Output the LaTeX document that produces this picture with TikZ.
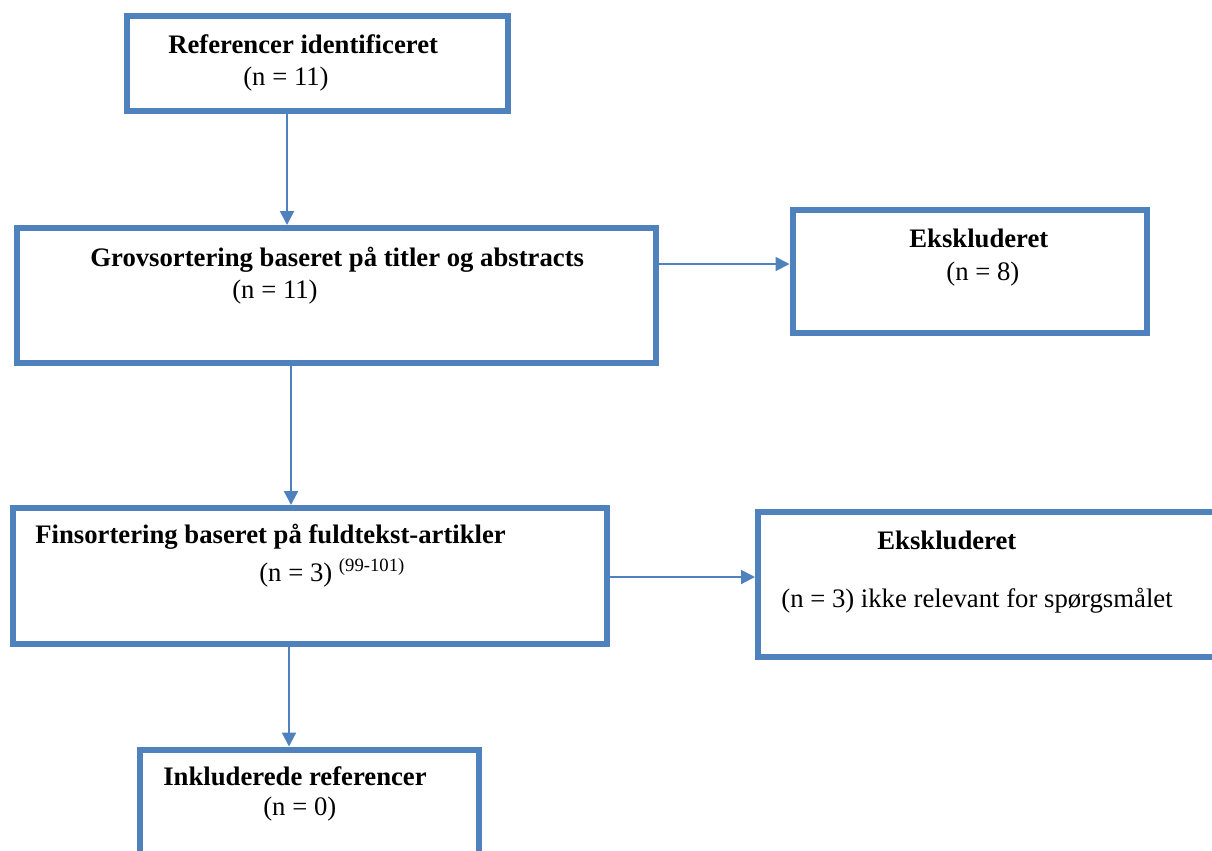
\documentclass[tikz,border=0pt]{standalone}
\usepackage{fontspec}
\setmainfont{Liberation Serif}
\usetikzlibrary{arrows.meta}
\definecolor{boxblue}{HTML}{4F81BD}
\begin{document}
\begin{tikzpicture}[x=0.02cm,y=-0.02cm,
  box/.style={draw=boxblue, line width=0.12cm, rectangle, inner sep=0pt, fill=none},
  txt/.style={inner sep=0pt, anchor=base west, font=\fontsize{15.2}{18}\selectfont},
  arr/.style={draw=boxblue, line width=0.04cm, -{Triangle[length=0.28cm,width=0.28cm]}}]
\useasboundingbox (0,0) rectangle (1212,850);
\clip (0,0) rectangle (1212,850);
% boxes
\node[box, minimum width=381*0.02cm, minimum height=95*0.02cm] (b1) at (317,63) {};
\node[box, minimum width=639*0.02cm, minimum height=135*0.02cm] (b2) at (336.5,295.5) {};
\node[box, minimum width=354.5*0.02cm, minimum height=123*0.02cm] (b3) at (969.75,271.5) {};
\node[box, minimum width=594*0.02cm, minimum height=136*0.02cm] (b4) at (310,576) {};
\node[box, minimum width=500*0.02cm, minimum height=145*0.02cm] (b5) at (1008,584) {};
\node[box, minimum width=339*0.02cm, minimum height=160*0.02cm] (b6) at (309.5,829.5) {};
% texts
\node[txt] (t1a) at (168,53) {\textbf{Referencer identificeret}};
\node[txt] (t1b) at (243,85) {(n = 11)};
\node[txt] (t2a) at (90,266) {\textbf{Grovsortering baseret på titler og abstracts}};
\node[txt] (t2b) at (232,298) {(n = 11)};
\node[txt] (t3a) at (909,247) {\textbf{Ekskluderet}};
\node[txt] (t3b) at (946,280) {(n = 8)};
\node[txt] (t4a) at (35,543) {\textbf{Finsortering baseret på fuldtekst-artikler}};
\node[txt] (t4b) at (259,581) {(n = 3) \textsuperscript{(99-101)}};
\node[txt] (t5a) at (877,549) {\textbf{Ekskluderet}};
\node[txt] (t5b) at (781,607) {(n = 3) ikke relevant for spørgsmålet};
\node[txt] (t6a) at (163,785) {\textbf{Inkluderede referencer}};
\node[txt] (t6b) at (263,815) {(n = 0)};
% connector coordinates
\coordinate (c1) at (287,0);
\coordinate (c2) at (0,264);
\coordinate (c3) at (291,0);
\coordinate (c4) at (0,577);
\coordinate (c5) at (289,0);
% connectors
\draw[arr] (b1.south -| c1) -- (b2.north -| c1);
\draw[arr] (b2.east |- c2) -- (b3.west |- c2);
\draw[arr] (b2.south -| c3) -- (b4.north -| c3);
\draw[arr] (b4.east |- c4) -- (b5.west |- c4);
\draw[arr] (b4.south -| c5) -- (b6.north -| c5);
\end{tikzpicture}
\end{document}
